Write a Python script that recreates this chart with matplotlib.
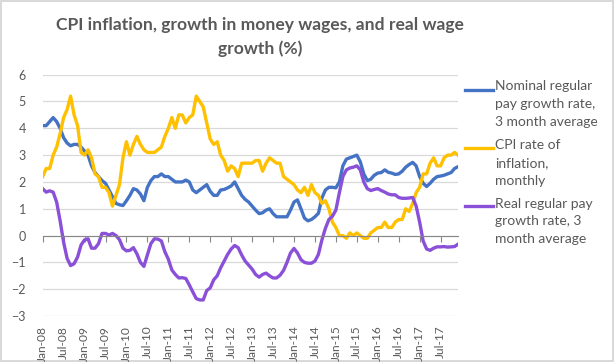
import numpy as np
import pandas as pd
import matplotlib
matplotlib.use("Agg")
import matplotlib.pyplot as plt
from matplotlib.lines import Line2D

# monthly series, Jan-08 .. Dec-17
months = pd.date_range("2008-01-01", "2017-12-01", freq="MS")

nominal = [4.1, 4.1, 4.25, 4.4, 4.25, 4.0, 3.65, 3.45, 3.35, 3.4, 3.4, 3.3,
           3.15, 3.0, 2.6, 2.35, 2.2, 2.05, 1.95, 1.7, 1.45, 1.2, 1.15, 1.12,
           1.3, 1.5, 1.75, 1.7, 1.55, 1.3, 1.8, 2.05, 2.2, 2.2, 2.3, 2.2,
           2.2, 2.1, 2.0, 2.0, 2.0, 2.07, 2.0, 1.7, 1.6, 1.7, 1.8, 1.9,
           1.65, 1.5, 1.5, 1.7, 1.72, 1.78, 1.85, 2.0, 1.75, 1.5, 1.35, 1.25,
           1.1, 0.95, 0.82, 0.85, 0.95, 1.0, 0.82, 0.7, 0.7, 0.7, 0.7, 0.95,
           1.25, 1.33, 1.0, 0.65, 0.55, 0.6, 0.7, 0.83, 1.4, 1.7, 1.8, 1.8,
           1.78, 2.0, 2.6, 2.85, 2.9, 2.95, 3.0, 2.75, 2.3, 2.05, 2.1, 2.25,
           2.33, 2.35, 2.45, 2.36, 2.33, 2.28, 2.3, 2.4, 2.55, 2.65, 2.73, 2.6,
           2.2, 1.95, 1.83, 1.95, 2.1, 2.2, 2.22, 2.25, 2.3, 2.35, 2.5, 2.57]

cpi = [2.2, 2.5, 2.5, 3.0, 3.3, 3.8, 4.4, 4.7, 5.2, 4.5, 4.1, 3.1,
       3.0, 3.2, 2.9, 2.3, 2.2, 1.8, 1.8, 1.6, 1.1, 1.5, 1.9, 2.9,
       3.5, 3.0, 3.4, 3.7, 3.4, 3.2, 3.1, 3.1, 3.1, 3.2, 3.3, 3.7,
       4.0, 4.4, 4.0, 4.5, 4.5, 4.2, 4.4, 4.5, 5.2, 5.0, 4.8, 4.2,
       3.6, 3.4, 3.5, 3.0, 2.8, 2.4, 2.6, 2.5, 2.2, 2.7, 2.7, 2.7,
       2.7, 2.8, 2.8, 2.4, 2.7, 2.9, 2.8, 2.7, 2.7, 2.2, 2.1, 2.0,
       1.9, 1.7, 1.6, 1.8, 1.5, 1.9, 1.6, 1.5, 1.2, 1.3, 1.0, 0.5,
       0.3, 0.0, 0.0, -0.1, 0.1, 0.0, 0.1, 0.0, -0.1, -0.1, 0.1, 0.2,
       0.3, 0.3, 0.5, 0.3, 0.3, 0.5, 0.6, 0.6, 1.0, 0.9, 1.2, 1.6,
       1.8, 2.3, 2.3, 2.7, 2.9, 2.6, 2.6, 2.9, 3.0, 3.0, 3.1, 3.0]

real = [1.75, 1.62, 1.67, 1.62, 1.25, 0.55, -0.25, -0.85, -1.12, -1.05, -0.8, -0.35,
        -0.16, -0.12, -0.47, -0.47, -0.3, 0.08, 0.08, 0.02, 0.08, 0.0, -0.15, -0.47,
        -0.57, -0.55, -0.45, -0.68, -1.0, -1.15, -0.72, -0.3, -0.12, -0.13, -0.2, -0.6,
        -0.88, -1.28, -1.45, -1.58, -1.57, -1.6, -1.84, -2.1, -2.35, -2.4, -2.4, -2.05,
        -1.95, -1.65, -1.5, -1.2, -0.95, -0.7, -0.5, -0.37, -0.45, -0.72, -0.95, -1.1,
        -1.25, -1.45, -1.55, -1.45, -1.4, -1.5, -1.58, -1.58, -1.48, -1.3, -1.0, -0.65,
        -0.48, -0.65, -0.9, -1.0, -1.03, -1.03, -0.95, -0.7, -0.16, 0.27, 0.6, 0.72,
        0.95, 1.6, 2.2, 2.45, 2.52, 2.55, 2.6, 2.45, 2.0, 1.75, 1.68, 1.72,
        1.75, 1.68, 1.62, 1.55, 1.52, 1.52, 1.42, 1.39, 1.39, 1.4, 1.42, 1.1,
        0.5, -0.2, -0.5, -0.55, -0.47, -0.42, -0.42, -0.41, -0.43, -0.42, -0.41, -0.32]

labels = ["Nominal regular\npay growth rate,\n3 month average",
          "CPI rate of\ninflation,\nmonthly",
          "Real regular pay\ngrowth rate, 3\nmonth average"]
colors = ["#4472C4", "#FFC000", "#8A50D8"]
title = "CPI inflation, growth in money wages, and real wage\ngrowth (%)"

GREY = "#595959"
W, H = 614, 362
plt.rcParams["font.family"] = ["Lato", "DejaVu Sans"]

fig = plt.figure(figsize=(W / 100, H / 100), dpi=100, edgecolor="#d9d9d9")
fig.patch.set_linewidth(1.5)
ax = fig.add_axes([0.0695, 0.127, 0.746 - 0.0695, 0.7937 - 0.127])

x = np.arange(len(months))
for ys, c in zip([nominal, cpi, real], colors):
    ax.plot(x, ys, color=c, lw=2.4, solid_joinstyle="round")

ax.set_xlim(0, len(months) - 1)
ax.set_ylim(-3, 6)
ax.set_yticks(range(-3, 7))
ax.grid(axis="y", color="#d9d9d9", lw=0.9)
ax.set_axisbelow(True)
for s in ("top", "right", "left"):
    ax.spines[s].set_visible(False)
# zero line carries the tick marks, labels sit at the bottom
ax.spines["bottom"].set_position(("data", 0))
ax.spines["bottom"].set_color("#878787")
tick_idx = x[::6]
ax.set_xticks(tick_idx)
ax.tick_params(axis="x", length=4, color="#878787", labelbottom=False)
ax.tick_params(axis="y", length=0, labelsize=9, labelcolor=GREY, pad=12)

sec = ax.secondary_xaxis("bottom")
sec.set_xticks(tick_idx)
sec.set_xticklabels([m.strftime("%b-%y") for m in months[::6]],
                    rotation=90, fontsize=8.6, color=GREY)
sec.tick_params(length=0, pad=7)
sec.spines["bottom"].set_visible(False)

fig.text(0.424, 1 - 37 / H, title, ha="center", va="center", fontsize=12.6,
         fontweight="bold", color=GREY, linespacing=1.5)

# legend: handle beside the first line of each wrapped label
for lab, c, yc in zip(labels, colors, [89.5, 148.3, 206.5]):
    fig.add_artist(Line2D([465 / W, 493 / W], [1 - yc / H] * 2, color=c, lw=2.4,
                          transform=fig.transFigure))
    fig.text(495 / W, 1 - (yc - 9) / H, lab, ha="left", va="top", fontsize=10,
             color=GREY, linespacing=1.58)

fig.savefig("out.png", dpi=100)
